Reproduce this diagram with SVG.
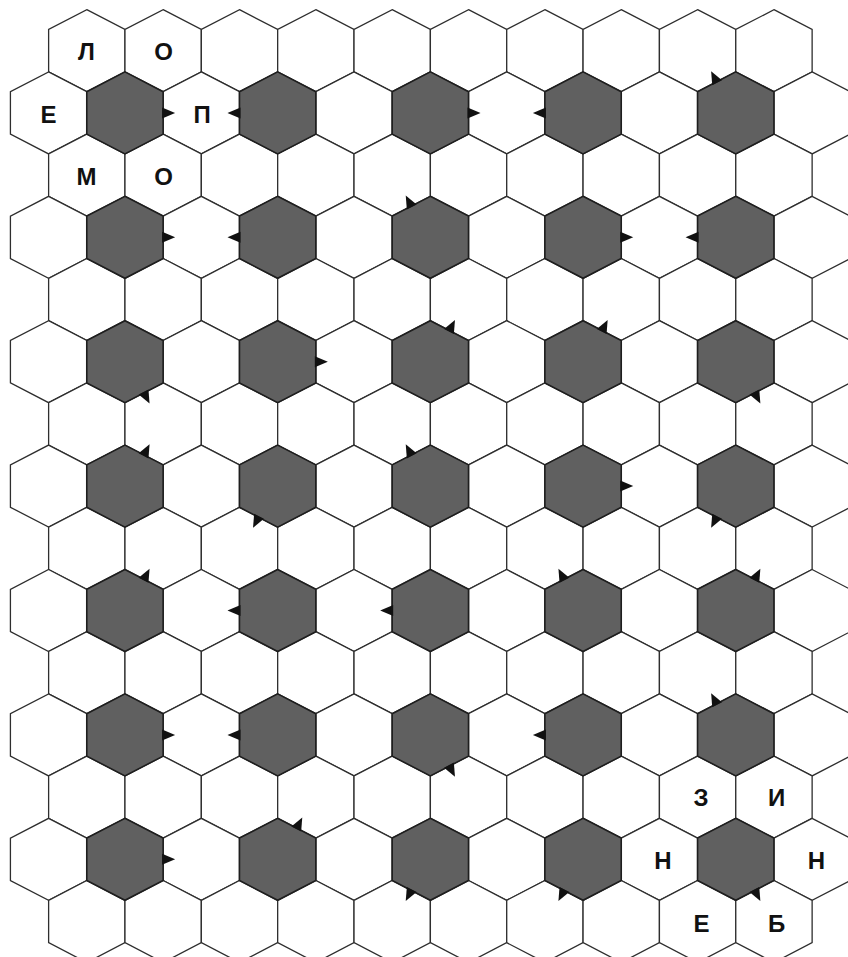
<svg xmlns="http://www.w3.org/2000/svg" xmlns:xlink="http://www.w3.org/1999/xlink" width="848" height="957" viewBox="0 0 848 957">
<style>
.cell{fill:#ffffff;stroke:#2e2e2e;stroke-width:1.3;stroke-linejoin:miter}
.dark{fill:#606060;stroke:#1e1e1e;stroke-width:1.6;stroke-linejoin:miter}
.tri{fill:#111111;stroke:none}
.lbl{font-family:"Liberation Sans",Arial,sans-serif;font-weight:bold;font-size:24px;fill:#111111;text-anchor:middle}
</style>
<defs>
<polygon id="h" class="cell" points="0,-41 38.18,-21.2 38.18,21.2 0,41 -38.18,21.2 -38.18,-21.2"/>
<polygon id="hs" class="dark" points="0,-41 38.18,-21.2 38.18,21.2 0,41 -38.18,21.2 -38.18,-21.2"/>
<polygon id="t" class="tri" points="-1,-5.5 12,0 -1,5.5"/>
</defs>
<rect width="848" height="957" fill="#ffffff"/>

<g id="grid">
<g transform="translate(0,50.7)"><use href="#h" x="86.8"/><use href="#h" x="163.15"/><use href="#h" x="239.5"/><use href="#h" x="315.85"/><use href="#h" x="392.2"/><use href="#h" x="468.55"/><use href="#h" x="544.9"/><use href="#h" x="621.25"/><use href="#h" x="697.6"/><use href="#h" x="773.95"/></g>
<g transform="translate(0,112.9)"><use href="#h" x="48.6"/><use href="#h" x="201.3"/><use href="#h" x="354"/><use href="#h" x="506.7"/><use href="#h" x="659.4"/><use href="#h" x="812.1"/></g>
<g transform="translate(0,175.1)"><use href="#h" x="86.8"/><use href="#h" x="163.15"/><use href="#h" x="239.5"/><use href="#h" x="315.85"/><use href="#h" x="392.2"/><use href="#h" x="468.55"/><use href="#h" x="544.9"/><use href="#h" x="621.25"/><use href="#h" x="697.6"/><use href="#h" x="773.95"/></g>
<g transform="translate(0,237.3)"><use href="#h" x="48.6"/><use href="#h" x="201.3"/><use href="#h" x="354"/><use href="#h" x="506.7"/><use href="#h" x="659.4"/><use href="#h" x="812.1"/></g>
<g transform="translate(0,299.5)"><use href="#h" x="86.8"/><use href="#h" x="163.15"/><use href="#h" x="239.5"/><use href="#h" x="315.85"/><use href="#h" x="392.2"/><use href="#h" x="468.55"/><use href="#h" x="544.9"/><use href="#h" x="621.25"/><use href="#h" x="697.6"/><use href="#h" x="773.95"/></g>
<g transform="translate(0,361.7)"><use href="#h" x="48.6"/><use href="#h" x="201.3"/><use href="#h" x="354"/><use href="#h" x="506.7"/><use href="#h" x="659.4"/><use href="#h" x="812.1"/></g>
<g transform="translate(0,423.9)"><use href="#h" x="86.8"/><use href="#h" x="163.15"/><use href="#h" x="239.5"/><use href="#h" x="315.85"/><use href="#h" x="392.2"/><use href="#h" x="468.55"/><use href="#h" x="544.9"/><use href="#h" x="621.25"/><use href="#h" x="697.6"/><use href="#h" x="773.95"/></g>
<g transform="translate(0,486.1)"><use href="#h" x="48.6"/><use href="#h" x="201.3"/><use href="#h" x="354"/><use href="#h" x="506.7"/><use href="#h" x="659.4"/><use href="#h" x="812.1"/></g>
<g transform="translate(0,548.3)"><use href="#h" x="86.8"/><use href="#h" x="163.15"/><use href="#h" x="239.5"/><use href="#h" x="315.85"/><use href="#h" x="392.2"/><use href="#h" x="468.55"/><use href="#h" x="544.9"/><use href="#h" x="621.25"/><use href="#h" x="697.6"/><use href="#h" x="773.95"/></g>
<g transform="translate(0,610.5)"><use href="#h" x="48.6"/><use href="#h" x="201.3"/><use href="#h" x="354"/><use href="#h" x="506.7"/><use href="#h" x="659.4"/><use href="#h" x="812.1"/></g>
<g transform="translate(0,672.7)"><use href="#h" x="86.8"/><use href="#h" x="163.15"/><use href="#h" x="239.5"/><use href="#h" x="315.85"/><use href="#h" x="392.2"/><use href="#h" x="468.55"/><use href="#h" x="544.9"/><use href="#h" x="621.25"/><use href="#h" x="697.6"/><use href="#h" x="773.95"/></g>
<g transform="translate(0,734.9)"><use href="#h" x="48.6"/><use href="#h" x="201.3"/><use href="#h" x="354"/><use href="#h" x="506.7"/><use href="#h" x="659.4"/><use href="#h" x="812.1"/></g>
<g transform="translate(0,797.1)"><use href="#h" x="86.8"/><use href="#h" x="163.15"/><use href="#h" x="239.5"/><use href="#h" x="315.85"/><use href="#h" x="392.2"/><use href="#h" x="468.55"/><use href="#h" x="544.9"/><use href="#h" x="621.25"/><use href="#h" x="697.6"/><use href="#h" x="773.95"/></g>
<g transform="translate(0,859.3)"><use href="#h" x="48.6"/><use href="#h" x="201.3"/><use href="#h" x="354"/><use href="#h" x="506.7"/><use href="#h" x="659.4"/><use href="#h" x="812.1"/></g>
<g transform="translate(0,921.5)"><use href="#h" x="86.8"/><use href="#h" x="163.15"/><use href="#h" x="239.5"/><use href="#h" x="315.85"/><use href="#h" x="392.2"/><use href="#h" x="468.55"/><use href="#h" x="544.9"/><use href="#h" x="621.25"/><use href="#h" x="697.6"/><use href="#h" x="773.95"/></g>
</g>

<g id="shaded">
<g id="s1-0"><use href="#hs" x="124.95" y="112.9"/><use href="#t" transform="translate(163.13,112.9)"/></g>
<g id="s1-1"><use href="#hs" x="277.65" y="112.9"/><use href="#t" transform="translate(239.47,112.9) rotate(180)"/></g>
<g id="s1-2"><use href="#hs" x="430.35" y="112.9"/><use href="#t" transform="translate(468.53,112.9)"/></g>
<g id="s1-3"><use href="#hs" x="583.05" y="112.9"/><use href="#t" transform="translate(544.87,112.9) rotate(180)"/></g>
<g id="s1-4"><use href="#hs" x="735.75" y="112.9"/><use href="#t" transform="translate(716.66,81.8) rotate(-117.4)"/></g>

<g id="s3-0"><use href="#hs" x="124.95" y="237.3"/><use href="#t" transform="translate(163.13,237.3)"/></g>
<g id="s3-1"><use href="#hs" x="277.65" y="237.3"/><use href="#t" transform="translate(239.47,237.3) rotate(180)"/></g>
<g id="s3-2"><use href="#hs" x="430.35" y="237.3"/><use href="#t" transform="translate(411.26,206.2) rotate(-117.4)"/></g>
<g id="s3-3"><use href="#hs" x="583.05" y="237.3"/><use href="#t" transform="translate(621.23,237.3)"/></g>
<g id="s3-4"><use href="#hs" x="735.75" y="237.3"/><use href="#t" transform="translate(697.57,237.3) rotate(180)"/></g>

<g id="s5-0"><use href="#hs" x="124.95" y="361.7"/><use href="#t" transform="translate(144.04,392.8) rotate(62.6)"/></g>
<g id="s5-1"><use href="#hs" x="277.65" y="361.7"/><use href="#t" transform="translate(315.83,361.7)"/></g>
<g id="s5-2"><use href="#hs" x="430.35" y="361.7"/><use href="#t" transform="translate(449.44,330.6) rotate(-62.6)"/></g>
<g id="s5-3"><use href="#hs" x="583.05" y="361.7"/><use href="#t" transform="translate(602.14,330.6) rotate(-62.6)"/></g>
<g id="s5-4"><use href="#hs" x="735.75" y="361.7"/><use href="#t" transform="translate(754.84,392.8) rotate(62.6)"/></g>

<g id="s7-0"><use href="#hs" x="124.95" y="486.1"/><use href="#t" transform="translate(144.04,455) rotate(-62.6)"/></g>
<g id="s7-1"><use href="#hs" x="277.65" y="486.1"/><use href="#t" transform="translate(258.56,517.2) rotate(117.4)"/></g>
<g id="s7-2"><use href="#hs" x="430.35" y="486.1"/><use href="#t" transform="translate(411.26,455) rotate(-117.4)"/></g>
<g id="s7-3"><use href="#hs" x="583.05" y="486.1"/><use href="#t" transform="translate(621.23,486.1)"/></g>
<g id="s7-4"><use href="#hs" x="735.75" y="486.1"/><use href="#t" transform="translate(716.66,517.2) rotate(117.4)"/></g>

<g id="s9-0"><use href="#hs" x="124.95" y="610.5"/><use href="#t" transform="translate(144.04,579.4) rotate(-62.6)"/></g>
<g id="s9-1"><use href="#hs" x="277.65" y="610.5"/><use href="#t" transform="translate(239.47,610.5) rotate(180)"/></g>
<g id="s9-2"><use href="#hs" x="430.35" y="610.5"/><use href="#t" transform="translate(392.17,610.5) rotate(180)"/></g>
<g id="s9-3"><use href="#hs" x="583.05" y="610.5"/><use href="#t" transform="translate(563.96,579.4) rotate(-117.4)"/></g>
<g id="s9-4"><use href="#hs" x="735.75" y="610.5"/><use href="#t" transform="translate(754.84,579.4) rotate(-62.6)"/></g>

<g id="s11-0"><use href="#hs" x="124.95" y="734.9"/><use href="#t" transform="translate(163.13,734.9)"/></g>
<g id="s11-1"><use href="#hs" x="277.65" y="734.9"/><use href="#t" transform="translate(239.47,734.9) rotate(180)"/></g>
<g id="s11-2"><use href="#hs" x="430.35" y="734.9"/><use href="#t" transform="translate(449.44,766) rotate(62.6)"/></g>
<g id="s11-3"><use href="#hs" x="583.05" y="734.9"/><use href="#t" transform="translate(544.87,734.9) rotate(180)"/></g>
<g id="s11-4"><use href="#hs" x="735.75" y="734.9"/><use href="#t" transform="translate(716.66,703.8) rotate(-117.4)"/></g>

<g id="s13-0"><use href="#hs" x="124.95" y="859.3"/><use href="#t" transform="translate(163.13,859.3)"/></g>
<g id="s13-1"><use href="#hs" x="277.65" y="859.3"/><use href="#t" transform="translate(296.74,828.2) rotate(-62.6)"/></g>
<g id="s13-2"><use href="#hs" x="430.35" y="859.3"/><use href="#t" transform="translate(411.26,890.4) rotate(117.4)"/></g>
<g id="s13-3"><use href="#hs" x="583.05" y="859.3"/><use href="#t" transform="translate(563.96,890.4) rotate(117.4)"/></g>
<g id="s13-4"><use href="#hs" x="735.75" y="859.3"/><use href="#t" transform="translate(754.84,890.4) rotate(62.6)"/></g>
</g>

<g id="letters">
<g id="c0-0"><text class="lbl" x="86.5" y="60.3">Л</text></g>
<g id="c0-1"><text class="lbl" x="163.5" y="60.3">О</text></g>
<g id="c1-0"><text class="lbl" x="48.5" y="122.5">Е</text></g>
<g id="c1-2"><text class="lbl" x="202" y="122.5">П</text></g>
<g id="c2-0"><text class="lbl" x="86.5" y="185">М</text></g>
<g id="c2-1"><text class="lbl" x="163.5" y="185">О</text></g>
<g id="c12-8"><text class="lbl" x="701" y="806">З</text></g>
<g id="c12-9"><text class="lbl" x="776.5" y="806">И</text></g>
<g id="c13-8"><text class="lbl" x="663" y="868.5">Н</text></g>
<g id="c13-10"><text class="lbl" x="816.5" y="868.5">Н</text></g>
<g id="c14-8"><text class="lbl" x="701.5" y="931.8">Е</text></g>
<g id="c14-9"><text class="lbl" x="776.5" y="931.8">Б</text></g>
</g>
</svg>
